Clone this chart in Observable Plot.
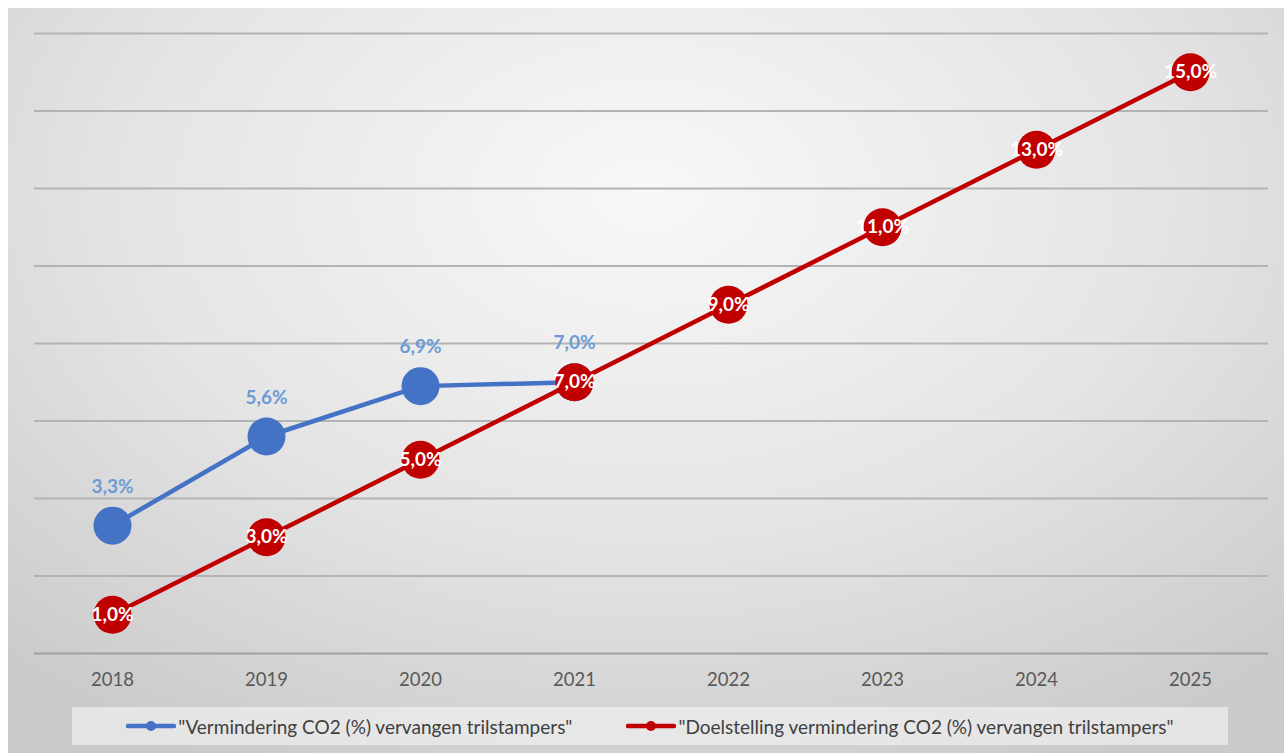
<!DOCTYPE html>
<html>
<head>
<meta charset="utf-8">
<script src="https://cdn.jsdelivr.net/npm/d3@7"></script>
<script src="https://cdn.jsdelivr.net/npm/@observablehq/plot@0.6"></script>
<style>
  html, body { margin: 0; padding: 0; background: #fff; }
  #wrap { position: relative; width: 1284px; height: 753px; overflow: hidden; }
  #bg { position: absolute; left: 8px; top: 8px; width: 1276px; height: 745px;
        background: radial-gradient(ellipse 75% 85% at 50% 25%, #f8f8f8 0%, #e4e4e4 55%, #cacaca 100%); }
  #chart { position: absolute; left: 0; top: 0; }
  #legend { position: absolute; left: 72px; top: 707px; width: 1156px; height: 38px;
            background: rgba(240,240,240,0.7); display: flex; align-items: center; justify-content: center;
            font-family: Lato, "Open Sans", sans-serif; font-size: 19px; color: #404040; }
  .item { display: flex; align-items: center; margin: 0 27px; }
  .item svg { margin-right: 2px; }
</style>
</head>
<body>
<div id="wrap">
  <div id="bg"></div>
  <div id="chart"></div>
  <div id="legend"></div>
</div>
<script>
const years = [2018, 2019, 2020, 2021, 2022, 2023, 2024, 2025];
const seriesNames = [
  "\"Vermindering CO2 (%) vervangen trilstampers\"",
  "\"Doelstelling vermindering CO2 (%) vervangen trilstampers\""
];
const actualYears = [2018, 2019, 2020, 2021];
const actualValues = [3.3, 5.6, 6.9, 7.0];
const targetYears = [2018, 2019, 2020, 2021, 2022, 2023, 2024, 2025];
const targetValues = [1.0, 3.0, 5.0, 7.0, 9.0, 11.0, 13.0, 15.0];
const gridTicks = [2, 4, 6, 8, 10, 12, 14, 16];
const colors = ["#4472c4", "#c00000"];

const fmt = v => v.toFixed(1).replace(".", ",") + "%";
const actual = actualYears.map((y, i) => ({year: String(y), value: actualValues[i]}));
const target = targetYears.map((y, i) => ({year: String(y), value: targetValues[i]}));

const chart = Plot.plot({
  width: 1284,
  height: 700,
  marginLeft: 34,
  marginRight: 16,
  marginTop: 33,
  marginBottom: 47,
  style: {background: "transparent", fontFamily: "Lato, 'Open Sans', sans-serif"},
  x: {type: "point", domain: years.map(String), padding: 0.5, label: null},
  y: {domain: [0, 16], axis: null},
  marks: [
    Plot.ruleY(gridTicks, {stroke: "#b3b3b3", strokeWidth: 2}),
    Plot.ruleY([0], {stroke: "#a0a0a0", strokeWidth: 2}),
    Plot.axisX({tickSize: 0, tickPadding: 19, fontSize: 18.5, color: "#595959", label: null}),
    Plot.line(actual, {x: "year", y: "value", stroke: colors[0], strokeWidth: 4.5}),
    Plot.dot(actual, {x: "year", y: "value", r: 19, fill: colors[0], stroke: "none"}),
    Plot.text(actual, {x: "year", y: "value", text: d => fmt(d.value), dy: -39, fill: "#6c9bd6", fontWeight: "bold", fontSize: 19}),
    Plot.line(target, {x: "year", y: "value", stroke: colors[1], strokeWidth: 4.5}),
    Plot.dot(target, {x: "year", y: "value", r: 19, fill: colors[1], stroke: "none"}),
    Plot.text(target, {x: "year", y: "value", text: d => fmt(d.value), fill: "white", fontWeight: "bold", fontSize: 19})
  ]
});
document.getElementById("chart").appendChild(chart);

const legend = document.getElementById("legend");
seriesNames.forEach((name, i) => {
  const item = document.createElement("div");
  item.className = "item";
  item.innerHTML = `<svg width="50" height="12"><line x1="2" y1="6" x2="48" y2="6" stroke="${colors[i]}" stroke-width="4.5" stroke-linecap="round"/><circle cx="25" cy="6" r="5" fill="${colors[i]}"/></svg><span>${name}</span>`;
  legend.appendChild(item);
});
</script>
</body>
</html>
